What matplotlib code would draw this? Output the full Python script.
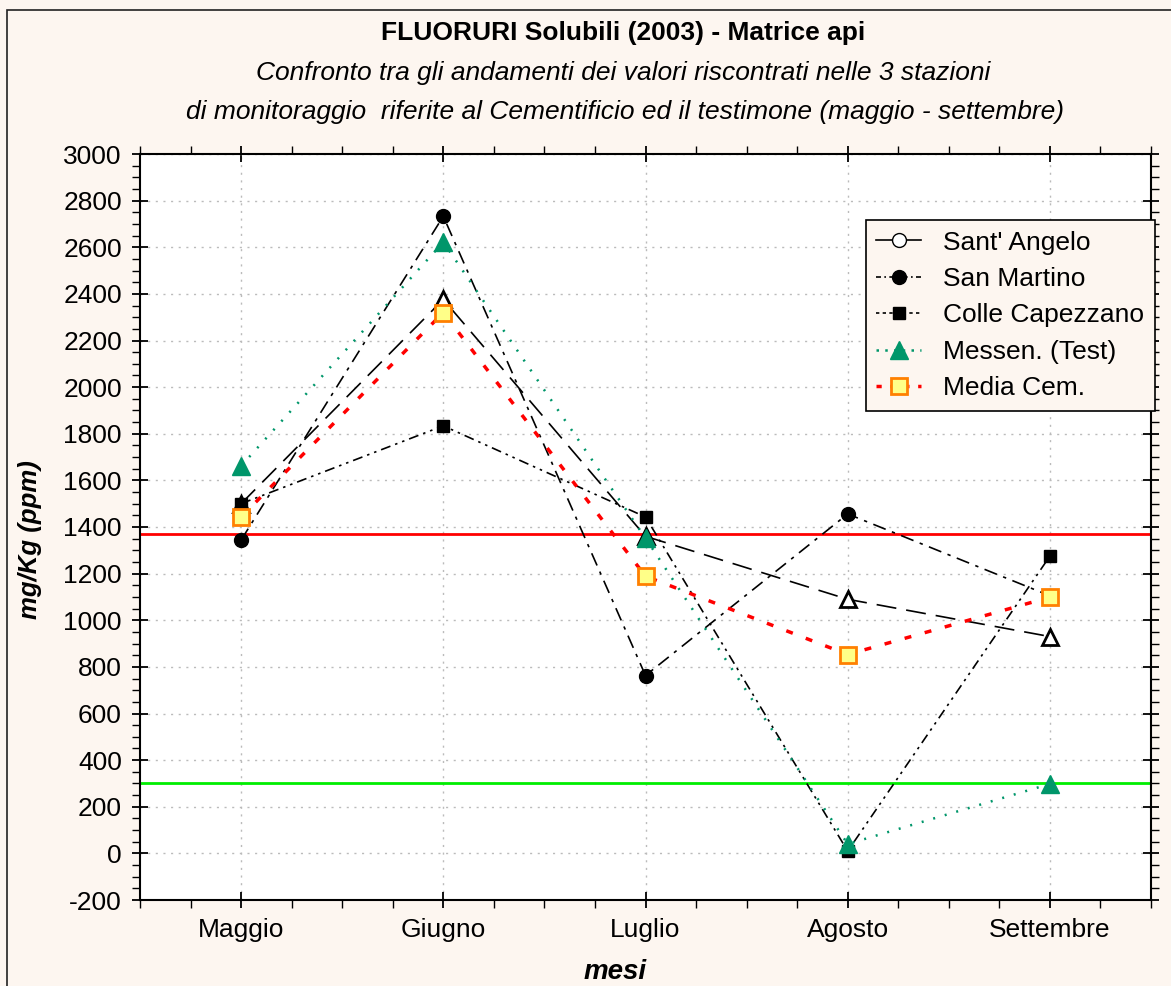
import matplotlib
matplotlib.use("Agg")
import matplotlib.pyplot as plt
from matplotlib.lines import Line2D
from matplotlib.patches import Rectangle
from matplotlib.ticker import MultipleLocator

plt.rcParams['font.family'] = ['Liberation Sans', 'DejaVu Sans']
plt.rcParams['axes.unicode_minus'] = False

mesi = ['Maggio', 'Giugno', 'Luglio', 'Agosto', 'Settembre']
sant_angelo = [1500, 2376, 1360, 1090, 930]
san_martino = [1344, 2733, 763, 1456, 1105]
colle_capezzano = [1500, 1834, 1443, 10, 1275]
messen_test = [1662, 2622, 1352, 40, 298]
media_cem = [1443, 2320, 1189, 853, 1099]
soglia_rossa = 1370
soglia_verde = 300

cream = '#FDF6F0'
green = '#00966A'

fig = plt.figure(figsize=(11.71, 9.86), dpi=100, facecolor=cream)
fig.patches.append(Rectangle((7/1171, -0.1), 1.2, 1 - 10/986 + 0.1,
                             transform=fig.transFigure, fill=False,
                             edgecolor='#222222', lw=1.2))
ax = fig.add_axes([140/1171, 1 - 900/986, 1011/1171, 746/986])
x = list(range(len(mesi)))

ax.axhline(soglia_rossa, color='#FF0000', lw=2, zorder=2)
ax.axhline(soglia_verde, color='#00EE00', lw=2, zorder=2)

ax.plot(x, sant_angelo, color='black', lw=1.2, dashes=(12, 6),
        marker='^', ms=11, mfc='white', mec='black', mew=2, zorder=4)
ax.plot(x, san_martino, color='black', lw=1.2, dashes=(8, 4, 2, 4),
        marker='o', ms=10, mfc='black', mec='black', zorder=4)
ax.plot(x, colle_capezzano, color='black', lw=1.2, dashes=(6, 3, 1.5, 3, 1.5, 3),
        marker='s', ms=8, mfc='black', mec='black', zorder=4)
ax.plot(x, messen_test, color=green, lw=1.8, dashes=(0.8, 4),
        marker='^', ms=13, mfc=green, mec=green, zorder=5)
ax.plot(x, media_cem, color='#FF0000', lw=2.5, dashes=(2, 4),
        marker='s', ms=12, mfc='#FFFF88', mec='#FF8000', mew=2, zorder=6)

ax.set_xlim(-0.5, 4.5)
ax.set_ylim(-200, 3000)
ax.set_xticks(x)
ax.set_xticklabels(mesi)
ax.xaxis.set_minor_locator(MultipleLocator(0.25))
ax.yaxis.set_major_locator(MultipleLocator(200))
ax.yaxis.set_minor_locator(MultipleLocator(50))
ax.tick_params(which='major', direction='inout', length=12, width=1.3,
               labelsize=19, top=True, right=True, pad=7)
ax.tick_params(which='minor', direction='out', length=6, width=1,
               top=True, right=True)
ax.grid(True, which='major', color='#BBBBBB', ls=(0, (1.5, 4)), lw=1)
for s in ax.spines.values():
    s.set_linewidth(1.5)
ax.set_facecolor('white')

fig.text(0.532, 1 - 33/986, 'FLUORURI Solubili (2003) - Matrice api',
         ha='center', va='center', fontsize=19, fontweight='bold')
fig.text(0.532, 1 - 73/986, 'Confronto tra gli andamenti dei valori riscontrati nelle 3 stazioni',
         ha='center', va='center', fontsize=19, style='italic')
fig.text(0.534, 1 - 112/986, 'di monitoraggio  riferite al Cementificio ed il testimone (maggio - settembre)',
         ha='center', va='center', fontsize=19, style='italic')
fig.text(30/1171, 1 - 540/986, 'mg/Kg (ppm)', rotation=90, ha='center', va='center',
         fontsize=18.5, fontweight='bold', style='italic')
fig.text(615/1171, 1 - 972/986, 'mesi', ha='center', va='center',
         fontsize=20, fontweight='bold', style='italic')

handles = [
    Line2D([], [], color='black', lw=1.2, marker='o', ms=10, mfc='white', mec='black'),
    Line2D([], [], color='black', lw=1.2, dashes=(3, 2, 1, 2), marker='o', ms=10, mfc='black'),
    Line2D([], [], color='black', lw=1.2, dashes=(2, 2), marker='s', ms=8, mfc='black'),
    Line2D([], [], color=green, lw=1.8, dashes=(1, 2.5), marker='^', ms=13, mfc=green, mec=green),
    Line2D([], [], color='#FF0000', lw=2.5, dashes=(1.5, 2.5), marker='s', ms=12,
           mfc='#FFFF88', mec='#FF8000', mew=2),
]
labels = ["Sant' Angelo", 'San Martino', 'Colle Capezzano', 'Messen. (Test)', 'Media Cem.']
leg = ax.legend(handles, labels, loc='upper right', bbox_to_anchor=(1.004, 0.9115),
                fontsize=19, fancybox=False, framealpha=1, facecolor=cream,
                edgecolor='black', handlelength=1.7, labelspacing=0.47,
                borderpad=0.4, handletextpad=0.85, borderaxespad=0)
leg.get_frame().set_linewidth(1.2)
leg.set_zorder(10)

fig.savefig('out.png', dpi=100, facecolor=cream)
